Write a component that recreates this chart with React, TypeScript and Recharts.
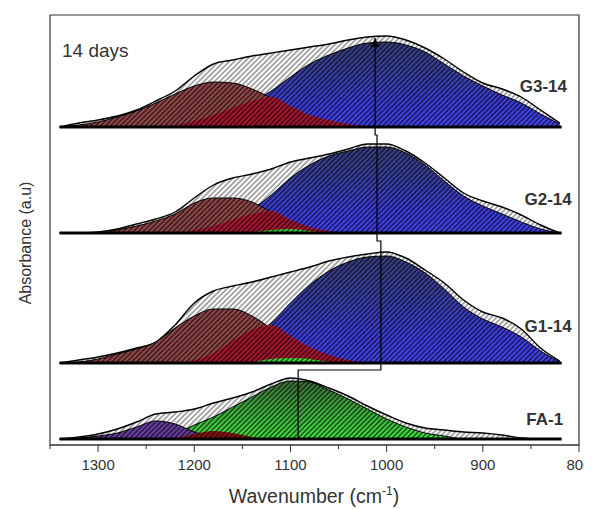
import React from 'react';
import {
  ComposedChart,
  Area,
  Line,
  XAxis,
  YAxis,
  ReferenceLine,
  ReferenceArea,
  ReferenceDot,
} from 'recharts';

// ---------------- data (absorbance, a.u.) ----------------
const wavenumbers = [1340, 1320, 1300, 1280, 1260, 1240, 1220, 1200, 1180, 1160, 1140, 1120, 1100, 1080, 1060, 1040, 1020, 1000, 980, 960, 940, 920, 900, 880, 860, 840, 820];

// vertical stacking offsets of each spectrum
const offsetFA1 = 0.06;
const offsetG1 = 0.82;
const offsetG2 = 2.12;
const offsetG3 = 3.18;

const g3Envelope = [0, 0.04, 0.07, 0.11, 0.17, 0.26, 0.36, 0.51, 0.63, 0.67, 0.71, 0.74, 0.77, 0.80, 0.83, 0.87, 0.90, 0.91, 0.87, 0.79, 0.68, 0.55, 0.44, 0.38, 0.30, 0.17, 0.04];
const g3Blue = [0, 0, 0, 0, 0, 0.01, 0.03, 0.06, 0.10, 0.16, 0.25, 0.36, 0.50, 0.63, 0.72, 0.79, 0.84, 0.85, 0.82, 0.75, 0.63, 0.51, 0.41, 0.32, 0.24, 0.13, 0.03];
const g3Brown = [0, 0.02, 0.05, 0.10, 0.16, 0.24, 0.33, 0.41, 0.45, 0.44, 0.38, 0.29, 0.18, 0.09, 0.04, 0.01, 0, 0, 0, 0, 0, 0, 0, 0, 0, 0, 0];
const g3Crimson = [0, 0, 0, 0, 0, 0, 0.02, 0.06, 0.12, 0.19, 0.26, 0.30, 0.21, 0.12, 0.07, 0.03, 0.01, 0, 0, 0, 0, 0, 0, 0, 0, 0, 0];

const g2Envelope = [0, 0, 0.01, 0.04, 0.09, 0.14, 0.21, 0.35, 0.48, 0.55, 0.59, 0.64, 0.71, 0.75, 0.79, 0.84, 0.89, 0.89, 0.82, 0.70, 0.55, 0.40, 0.32, 0.26, 0.18, 0.08, 0];
const g2Blue = [0, 0, 0, 0, 0, 0, 0.02, 0.05, 0.10, 0.16, 0.24, 0.38, 0.55, 0.68, 0.77, 0.82, 0.86, 0.86, 0.80, 0.68, 0.52, 0.37, 0.27, 0.19, 0.11, 0.04, 0];
const g2Brown = [0, 0, 0, 0.03, 0.07, 0.12, 0.19, 0.30, 0.35, 0.35, 0.31, 0.21, 0.11, 0.04, 0.01, 0, 0, 0, 0, 0, 0, 0, 0, 0, 0, 0, 0];
const g2Crimson = [0, 0, 0, 0, 0, 0, 0, 0.03, 0.07, 0.13, 0.19, 0.22, 0.13, 0.06, 0.02, 0, 0, 0, 0, 0, 0, 0, 0, 0, 0, 0, 0];
const g2Green = [0, 0, 0, 0, 0, 0, 0, 0, 0, 0, 0.01, 0.03, 0.04, 0.02, 0, 0, 0, 0, 0, 0, 0, 0, 0, 0, 0, 0, 0];

const g1Envelope = [0, 0.03, 0.06, 0.10, 0.15, 0.21, 0.38, 0.60, 0.72, 0.77, 0.81, 0.86, 0.91, 0.96, 1.02, 1.06, 1.09, 1.11, 1.05, 0.93, 0.80, 0.63, 0.51, 0.45, 0.34, 0.15, 0.02];
const g1Blue = [0, 0, 0, 0, 0, 0.01, 0.03, 0.06, 0.11, 0.18, 0.27, 0.40, 0.60, 0.78, 0.92, 1.01, 1.06, 1.07, 1.01, 0.90, 0.74, 0.56, 0.44, 0.36, 0.26, 0.12, 0.01];
const g1Brown = [0, 0.01, 0.04, 0.09, 0.14, 0.21, 0.35, 0.47, 0.54, 0.54, 0.47, 0.34, 0.17, 0.07, 0.02, 0, 0, 0, 0, 0, 0, 0, 0, 0, 0, 0, 0];
const g1Crimson = [0, 0, 0, 0, 0, 0, 0, 0.03, 0.10, 0.22, 0.33, 0.38, 0.27, 0.16, 0.08, 0.03, 0, 0, 0, 0, 0, 0, 0, 0, 0, 0, 0];
const g1Green = [0, 0, 0, 0, 0, 0, 0, 0, 0, 0, 0.01, 0.04, 0.05, 0.04, 0.01, 0, 0, 0, 0, 0, 0, 0, 0, 0, 0, 0, 0];

const fa1Envelope = [0, 0.02, 0.05, 0.10, 0.17, 0.25, 0.27, 0.30, 0.36, 0.41, 0.47, 0.55, 0.61, 0.58, 0.51, 0.43, 0.33, 0.24, 0.16, 0.11, 0.09, 0.07, 0.06, 0.04, 0.01, 0, 0];
const fa1Green = [0, 0, 0, 0, 0, 0, 0.05, 0.14, 0.22, 0.32, 0.42, 0.52, 0.58, 0.57, 0.49, 0.40, 0.30, 0.20, 0.12, 0.06, 0.03, 0, 0, 0, 0, 0, 0];
const fa1Purple = [0, 0.01, 0.03, 0.06, 0.12, 0.18, 0.15, 0.07, 0.02, 0, 0, 0, 0, 0, 0, 0, 0, 0, 0, 0, 0, 0, 0, 0, 0, 0, 0];
const fa1DarkRed = [0, 0, 0, 0, 0, 0, 0.01, 0.05, 0.08, 0.06, 0.02, 0, 0, 0, 0, 0, 0, 0, 0, 0, 0, 0, 0, 0, 0, 0, 0];

// tick values of the wavenumber axis (labels only on hundreds)
const xTicks = [1350, 1300, 1250, 1200, 1150, 1100, 1050, 1000, 950, 900, 850, 800];

// peak-shift guide line (wavenumber, absorbance)
const arrowPath = [
  { w: 1092, a: 0.06 },
  { w: 1092, a: 0.75 },
  { w: 1006, a: 0.75 },
  { w: 1006, a: 2.04 },
  { w: 1010, a: 2.04 },
  { w: 1010, a: 3.10 },
  { w: 1012, a: 3.10 },
  { w: 1012, a: 4.07 },
];

const spectrumNames = ['G3-14', 'G2-14', 'G1-14', 'FA-1'];

// ---------------- table ----------------
const table = wavenumbers.map((w, i) => ({
  w,
  g3Env: offsetG3 + g3Envelope[i],
  g3Blue: offsetG3 + g3Blue[i],
  g3Brown: offsetG3 + g3Brown[i],
  g3Crimson: offsetG3 + g3Crimson[i],
  g2Env: offsetG2 + g2Envelope[i],
  g2Blue: offsetG2 + g2Blue[i],
  g2Brown: offsetG2 + g2Brown[i],
  g2Crimson: offsetG2 + g2Crimson[i],
  g2Green: offsetG2 + g2Green[i],
  g1Env: offsetG1 + g1Envelope[i],
  g1Blue: offsetG1 + g1Blue[i],
  g1Brown: offsetG1 + g1Brown[i],
  g1Crimson: offsetG1 + g1Crimson[i],
  g1Green: offsetG1 + g1Green[i],
  faEnv: offsetFA1 + fa1Envelope[i],
  faGreen: offsetFA1 + fa1Green[i],
  faPurple: offsetFA1 + fa1Purple[i],
  faDarkRed: offsetFA1 + fa1DarkRed[i],
}));

const FONT = '"Liberation Sans", Arial, Helvetica, sans-serif';

function band(key: string, base: number, fill: string, strokeW = 1, hatch = 'hatch') {
  return [
    <Area
      key={key + '-fill'}
      type="monotone"
      dataKey={key}
      baseValue={base}
      fill={fill}
      fillOpacity={1}
      stroke="none"
      isAnimationActive={false}
      dot={false}
      activeDot={false}
    />,
    <Area
      key={key + '-hatch'}
      type="monotone"
      dataKey={key}
      baseValue={base}
      fill={`url(#${hatch})`}
      fillOpacity={1}
      stroke={strokeW > 0 ? '#000' : 'none'}
      strokeWidth={strokeW}
      isAnimationActive={false}
      dot={false}
      activeDot={false}
    />,
  ];
}

const AxisTick = (props: any) => {
  const { x, y, payload } = props;
  const major = payload.value % 100 === 0;
  return (
    <g>
      <line x1={x} x2={x} y1={y} y2={y + (major ? 7 : 4)} stroke="#333" strokeWidth={1} />
      {major && payload.value < 1350 ? (
        <text x={x} y={y + 25} textAnchor="middle" fontFamily={FONT} fontSize={15} fill="#333">
          {payload.value}
        </text>
      ) : null}
    </g>
  );
};

const ArrowDot = (props: any) => {
  const { cx, cy, index } = props;
  if (index !== arrowPath.length - 1) return <g key={'ad' + index} />;
  return <path key={'ad' + index} d={`M${cx},${cy} l-4.5,9 l9,0 z`} fill="#000" />;
};

const makeLabel = (text: string, anchor: string, size: number, bold: boolean) => (p: any) => (
  <text
    x={p.cx}
    y={p.cy}
    textAnchor={anchor}
    fontFamily={FONT}
    fontSize={size}
    fontWeight={bold ? 'bold' : 'normal'}
    fill="#333"
  >
    {text}
  </text>
);

export default function App() {
  const W = 584;
  const H = 500;
  return (
    <div style={{ position: 'relative', width: W, height: H }}>
      <svg width={0} height={0} style={{ position: 'absolute' }}>
        <defs>
          <pattern id="hatch" patternUnits="userSpaceOnUse" width="3.5" height="3.5" patternTransform="rotate(45)">
            <line x1="1.75" y1="0" x2="1.75" y2="3.5" stroke="#000" strokeWidth="1.15" strokeOpacity="0.85" />
          </pattern>
          <pattern id="hatchLight" patternUnits="userSpaceOnUse" width="3.7" height="3.7" patternTransform="rotate(45)">
            <line x1="1.85" y1="0" x2="1.85" y2="3.7" stroke="#222" strokeWidth="0.9" strokeOpacity="0.85" />
          </pattern>
          <linearGradient id="blueGrad" x1="0" y1="0" x2="0" y2="1">
            <stop offset="0" stopColor="#37407e" />
            <stop offset="0.35" stopColor="#3a42a6" />
            <stop offset="0.75" stopColor="#3f3fe6" />
            <stop offset="1" stopColor="#4444f4" />
          </linearGradient>
          <linearGradient id="greenGrad" x1="0" y1="0" x2="0" y2="1">
            <stop offset="0" stopColor="#3d6e3d" />
            <stop offset="0.4" stopColor="#3fa53f" />
            <stop offset="1" stopColor="#44e844" />
          </linearGradient>
        </defs>
      </svg>
      <ComposedChart width={W} height={H} data={table} margin={{ top: 7, right: 13, left: 42, bottom: 0 }}>
        <XAxis
          dataKey="w"
          type="number"
          domain={[800, 1350]}
          reversed
          ticks={xTicks}
          interval={0}
          height={63}
          tickLine={false}
          tickSize={0}
          tickMargin={0}
          tick={<AxisTick />}
          axisLine={{ stroke: '#333', strokeWidth: 1 }}
          allowDataOverflow
        />
        <YAxis hide type="number" domain={[0, 4.3]} allowDataOverflow />
        <ReferenceArea x1={1350} x2={800} y1={0} y2={4.3} fill="none" stroke="#333" strokeWidth={1.2} />

        {/* G3-14 */}
        {band('g3Env', offsetG3, '#ffffff', 1.4, 'hatchLight')}
        {band('g3Blue', offsetG3, 'url(#blueGrad)', 1)}
        {band('g3Brown', offsetG3, '#94494a', 1)}
        {band('g3Crimson', offsetG3, '#ab1630', 0)}

        {/* G2-14 */}
        {band('g2Env', offsetG2, '#ffffff', 1.4, 'hatchLight')}
        {band('g2Blue', offsetG2, 'url(#blueGrad)', 1)}
        {band('g2Brown', offsetG2, '#94494a', 1)}
        {band('g2Crimson', offsetG2, '#ab1630', 0)}
        {band('g2Green', offsetG2, '#3fe03f', 0)}

        {/* G1-14 */}
        {band('g1Env', offsetG1, '#ffffff', 1.4, 'hatchLight')}
        {band('g1Blue', offsetG1, 'url(#blueGrad)', 1)}
        {band('g1Brown', offsetG1, '#94494a', 1)}
        {band('g1Crimson', offsetG1, '#ab1630', 0)}
        {band('g1Green', offsetG1, '#3fe03f', 0)}

        {/* FA-1 */}
        {band('faEnv', offsetFA1, '#ffffff', 1.4, 'hatchLight')}
        {band('faGreen', offsetFA1, 'url(#greenGrad)', 1)}
        {band('faPurple', offsetFA1, '#6b3fa5', 1)}
        {band('faDarkRed', offsetFA1, '#8e1212', 0)}

        <ReferenceLine segment={[{ x: 1340, y: offsetG3 }, { x: 818, y: offsetG3 }]} stroke="#000" strokeWidth={3} />
        <ReferenceLine segment={[{ x: 1340, y: offsetG2 }, { x: 818, y: offsetG2 }]} stroke="#000" strokeWidth={3} />
        <ReferenceLine segment={[{ x: 1340, y: offsetG1 }, { x: 818, y: offsetG1 }]} stroke="#000" strokeWidth={3} />
        <ReferenceLine segment={[{ x: 1340, y: offsetFA1 }, { x: 818, y: offsetFA1 }]} stroke="#000" strokeWidth={3} />

        <Line
          data={arrowPath}
          dataKey="a"
          type="linear"
          stroke="#000"
          strokeWidth={1.2}
          dot={<ArrowDot />}
          activeDot={false}
          isAnimationActive={false}
        />

        <ReferenceDot x={812.5} y={3.53} r={0} shape={makeLabel(spectrumNames[0], 'end', 17, true)} />
        <ReferenceDot x={807.5} y={2.40} r={0} shape={makeLabel(spectrumNames[1], 'end', 17, true)} />
        <ReferenceDot x={807.5} y={1.13} r={0} shape={makeLabel(spectrumNames[2], 'end', 17, true)} />
        <ReferenceDot x={816.5} y={0.20} r={0} shape={makeLabel(spectrumNames[3], 'end', 17, true)} />
        <ReferenceDot x={1337.5} y={3.88} r={0} shape={makeLabel('14 days', 'start', 19, false)} />
      </ComposedChart>
      <svg
        width={W}
        height={H}
        style={{ position: 'absolute', left: 0, top: 0, pointerEvents: 'none' }}
      >
        <text
          x={17}
          y={235}
          transform="rotate(-90 17 235)"
          textAnchor="middle"
          dominantBaseline="central"
          fontFamily={FONT}
          fontSize={16}
          fill="#333"
        >
          Absorbance (a.u)
        </text>
        <text x={306} y={495} textAnchor="middle" fontFamily={FONT} fontSize={19.5} fill="#333">
          Wavenumber (cm
          <tspan fontSize={12} dy={-8}>-1</tspan>
          <tspan dy={8}>)</tspan>
        </text>
      </svg>
    </div>
  );
}
